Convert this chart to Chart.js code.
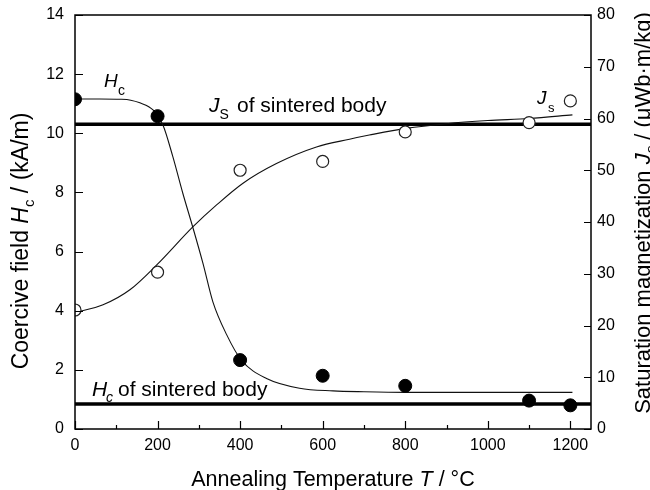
<!DOCTYPE html>
<html>
<head>
<meta charset="utf-8">
<script src="https://cdn.jsdelivr.net/npm/chart.js@4.4.1/dist/chart.umd.min.js"></script>
<style>
html, body { margin: 0; padding: 0; background: #fff; }
</style>
</head>
<body>
<canvas id="c" width="650" height="490"></canvas>
<script>
// 測定点（焼鈍温度）
const temps = [0, 200, 400, 600, 800, 1100, 1200];
const hcValues = [11.15, 10.58, 2.33, 1.80, 1.46, 0.96, 0.80];
const jsValues = [23.0, 30.3, 50.0, 51.7, 57.4, 59.2, 63.4];

// フィット曲線（図から読み取った点）
const hcFitT = [0, 60, 110, 135, 157, 189, 213, 237, 261, 285, 310, 334, 367, 403, 464, 544, 625, 700, 800, 900, 1000, 1100, 1205];
const hcFit = [11.16, 11.16, 11.15, 11.12, 11.03, 10.79, 10.28, 9.21, 7.98, 6.84, 5.6, 4.3, 3.2, 2.33, 1.71, 1.38, 1.29, 1.26, 1.24, 1.24, 1.24, 1.24, 1.24];
const jsFitT = [0, 68, 133, 198, 286, 343, 407, 488, 585, 665, 713, 802, 900, 1000, 1100, 1205];
const jsFit = [22.5, 24.0, 26.9, 31.7, 39.1, 43.3, 47.5, 51.3, 54.5, 56.0, 56.8, 58.1, 59.0, 59.6, 60.0, 60.7];

// 焼結体の値
const hcSintered = 0.845;
const jsSintered = 58.9;

// 軸の目盛
const xTicks = [0, 200, 400, 600, 800, 1000, 1200];
const xMinorTicks = [100, 300, 500, 700, 900, 1100];
const hcTicks = [0, 2, 4, 6, 8, 10, 12, 14];
const jsTicks = [0, 10, 20, 30, 40, 50, 60, 70, 80];
const xMax = 1250;

const FONT = '"Liberation Sans", Arial, Helvetica, sans-serif';

function pts(xs, ys) {
    return xs.map((x, i) => ({ x: x, y: ys[i] }));
}

// 上付き・下付きを含む文字列を描く
function drawRich(ctx, parts, x, y, align) {
    let total = 0;
    parts.forEach(p => { ctx.font = p.font; total += ctx.measureText(p.t).width; });
    let cx = align === 'center' ? x - total / 2 : x;
    parts.forEach(p => {
        ctx.font = p.font;
        ctx.fillText(p.t, cx, y + (p.dy || 0));
        cx += ctx.measureText(p.t).width;
    });
}

const n21 = '21px ' + FONT, i21 = 'italic 21px ' + FONT;
const nX = '21.5px ' + FONT, iX = 'italic 21.5px ' + FONT;
const n22 = '22px ' + FONT, i22 = 'italic 22px ' + FONT;
const n23 = '23px ' + FONT, i23 = 'italic 23px ' + FONT;
const n14 = '14px ' + FONT, i14 = 'italic 14px ' + FONT;
const n15 = '15px ' + FONT, i15 = 'italic 15px ' + FONT;

const framePlugin = {
    id: 'frame',
    afterDraw(chart) {
        const ctx = chart.ctx;
        const a = chart.chartArea;
        const sx = chart.scales.x, sy = chart.scales.y, sy2 = chart.scales.y2;
        ctx.save();
        ctx.strokeStyle = '#000';
        ctx.lineWidth = 1.5;
        ctx.strokeRect(a.left, a.top, a.right - a.left, a.bottom - a.top);

        // 内向きの目盛
        ctx.lineWidth = 1.2;
        ctx.beginPath();
        hcTicks.forEach(v => {
            const y = Math.round(sy.getPixelForValue(v)) + 0.5;
            ctx.moveTo(a.left, y); ctx.lineTo(a.left + 8, y);
        });
        jsTicks.forEach(v => {
            const y = Math.round(sy2.getPixelForValue(v)) + 0.5;
            ctx.moveTo(a.right, y); ctx.lineTo(a.right - 7, y);
        });
        xTicks.forEach(v => {
            const x = Math.round(sx.getPixelForValue(v)) + 0.5;
            ctx.moveTo(x, a.bottom); ctx.lineTo(x, a.bottom - 8);
        });
        xMinorTicks.forEach(v => {
            const x = Math.round(sx.getPixelForValue(v)) + 0.5;
            ctx.moveTo(x, a.bottom); ctx.lineTo(x, a.bottom - 4);
        });
        ctx.stroke();

        ctx.fillStyle = '#000';
        ctx.textBaseline = 'alphabetic';
        ctx.textAlign = 'left';

        // 注記
        drawRich(ctx, [{ t: 'H', font: 'italic 19px ' + FONT }], 104, 87);
        drawRich(ctx, [{ t: 'c', font: n14 }], 118, 95);
        drawRich(ctx, [{ t: 'J', font: i21 }, { t: 'S', font: n14, dy: 7 }], 209, 112);
        drawRich(ctx, [{ t: 'of sintered body', font: n21 }], 237, 112);
        drawRich(ctx, [{ t: 'J', font: 'italic 19px ' + FONT }], 537, 104);
        drawRich(ctx, [{ t: 's', font: '13px ' + FONT }], 548, 112);
        drawRich(ctx, [{ t: 'H', font: i21 }], 92, 396);
        drawRich(ctx, [{ t: 'c', font: i14 }], 106, 402);
        drawRich(ctx, [{ t: 'of sintered body', font: n21 }], 118, 396);

        // 軸タイトル
        drawRich(ctx, [
            { t: 'Annealing Temperature ', font: nX },
            { t: 'T', font: iX },
            { t: ' / °C', font: nX }
        ], 333, 486, 'center');

        ctx.save();
        ctx.translate(28, 241);
        ctx.rotate(-Math.PI / 2);
        drawRich(ctx, [
            { t: 'Coercive field ', font: n23 },
            { t: 'H', font: i23 },
            { t: 'c', font: n15, dy: 6 },
            { t: ' / (kA/m)', font: n23 }
        ], 0, 0, 'center');
        ctx.restore();

        ctx.save();
        ctx.translate(650, 213);
        ctx.rotate(-Math.PI / 2);
        drawRich(ctx, [
            { t: 'Saturation magnetization ', font: n22 },
            { t: 'J', font: i22 },
            { t: 's', font: i15, dy: 6 },
            { t: ' / (μWb·m/kg)', font: n22 }
        ], 0, 0, 'center');
        ctx.restore();

        ctx.restore();
    }
};

const tickFont = { family: FONT, size: 16 };
const plain = v => String(v);
const noPad = s => { s.paddingTop = 0; s.paddingBottom = 0; s.paddingLeft = 0; s.paddingRight = 0; };

new Chart(document.getElementById('c').getContext('2d'), {
    type: 'scatter',
    data: {
        datasets: [
            {
                label: 'Hc',
                data: pts(temps, hcValues),
                yAxisID: 'y',
                pointRadius: 6.5,
                pointBackgroundColor: '#000',
                pointBorderColor: '#000',
                pointBorderWidth: 1,
                showLine: false,
                order: 0
            },
            {
                label: 'Js',
                data: pts(temps, jsValues),
                yAxisID: 'y2',
                pointRadius: 6,
                pointBackgroundColor: '#fff',
                pointBorderColor: '#222',
                pointBorderWidth: 1.2,
                showLine: false,
                order: 0
            },
            {
                label: 'Hc fit',
                data: pts(hcFitT, hcFit),
                yAxisID: 'y',
                showLine: true,
                pointRadius: 0,
                borderColor: '#111',
                borderWidth: 1.1,
                cubicInterpolationMode: 'monotone',
                order: 1
            },
            {
                label: 'Js fit',
                data: pts(jsFitT, jsFit),
                yAxisID: 'y2',
                showLine: true,
                pointRadius: 0,
                borderColor: '#111',
                borderWidth: 1.1,
                cubicInterpolationMode: 'monotone',
                order: 1
            },
            {
                label: 'Hc sintered',
                data: pts([0, xMax], [hcSintered, hcSintered]),
                yAxisID: 'y',
                showLine: true,
                pointRadius: 0,
                borderColor: '#000',
                borderWidth: 3.5,
                order: 2
            },
            {
                label: 'Js sintered',
                data: pts([0, xMax], [jsSintered, jsSintered]),
                yAxisID: 'y2',
                showLine: true,
                pointRadius: 0,
                borderColor: '#000',
                borderWidth: 3.5,
                order: 2
            }
        ]
    },
    options: {
        responsive: false,
        animation: false,
        devicePixelRatio: 1,
        layout: { padding: { top: 15, left: 0, right: 0, bottom: 0 } },
        plugins: {
            legend: { display: false },
            tooltip: { enabled: false }
        },
        scales: {
            x: {
                type: 'linear',
                position: 'bottom',
                min: 0,
                max: xMax,
                grid: { display: false, drawTicks: false, tickLength: 0 },
                border: { display: false },
                afterBuildTicks: s => { s.ticks = xTicks.map(v => ({ value: v })); },
                afterFit: s => { s.height = 61; noPad(s); },
                ticks: { font: tickFont, color: '#000', padding: 7, maxRotation: 0, autoSkip: false, callback: plain }
            },
            y: {
                position: 'left',
                min: 0,
                max: 14,
                grid: { display: false, drawTicks: false, tickLength: 0 },
                border: { display: false },
                afterBuildTicks: s => { s.ticks = hcTicks.map(v => ({ value: v })); },
                afterFit: s => { s.width = 75; noPad(s); },
                ticks: { font: tickFont, color: '#000', padding: 11, callback: plain }
            },
            y2: {
                position: 'right',
                min: 0,
                max: 80,
                grid: { display: false, drawTicks: false, tickLength: 0 },
                border: { display: false },
                afterBuildTicks: s => { s.ticks = jsTicks.map(v => ({ value: v })); },
                afterFit: s => { s.width = 59; noPad(s); },
                ticks: { font: tickFont, color: '#000', padding: 6, callback: plain }
            }
        }
    },
    plugins: [framePlugin]
});
</script>
</body>
</html>
